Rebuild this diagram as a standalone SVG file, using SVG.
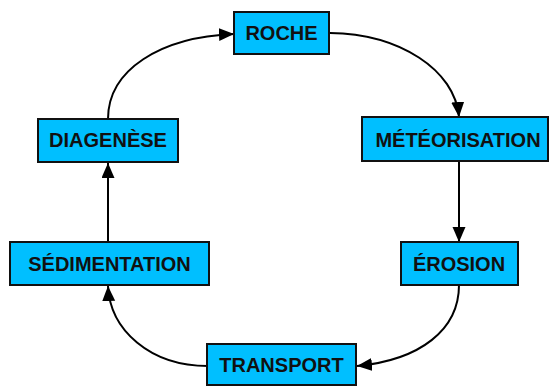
<svg xmlns="http://www.w3.org/2000/svg" width="550" height="386" viewBox="0 0 550 386">
<style>
.box{fill:#00BFFF;stroke:#111;stroke-width:2}
.lbl{font-family:"Liberation Sans",Arial,sans-serif;font-weight:bold;font-size:20px;fill:#111;text-anchor:middle}
.con{fill:none;stroke:#000;stroke-width:2}
</style>
<defs>
<marker id="ah" markerUnits="userSpaceOnUse" markerWidth="16" markerHeight="14" refX="15" refY="6.5" orient="auto">
<path d="M0,0 L15,6.5 L0,13 z" fill="#000"/>
</marker>
</defs>
<rect width="550" height="386" fill="#fff"/>
<g id="connectors">
<path class="con" d="M108,119 C108,70 160,37 234,34" marker-end="url(#ah)"/>
<path class="con" d="M330,33 C400,34 455,70 459,117" marker-end="url(#ah)"/>
<path class="con" d="M459,161 L459,242" marker-end="url(#ah)"/>
<path class="con" d="M459,285 C459,330 420,360 357,366" marker-end="url(#ah)"/>
<path class="con" d="M208,366 C150,366 110,330 108,286" marker-end="url(#ah)"/>
<path class="con" d="M108,242 L108,163" marker-end="url(#ah)"/>
</g>
<g id="roche"><rect class="box" x="234" y="12" width="95" height="42"/><text class="lbl" x="281.5" y="40">ROCHE</text></g>
<g id="meteorisation"><rect class="box" x="362" y="117" width="186" height="44"/><text class="lbl" x="458" y="147">MÉTÉORISATION</text></g>
<g id="erosion"><rect class="box" x="401" y="242" width="117" height="43"/><text class="lbl" x="459" y="271">ÉROSION</text></g>
<g id="transport"><rect class="box" x="207" y="344" width="149" height="41"/><text class="lbl" x="281.5" y="372">TRANSPORT</text></g>
<g id="sedimentation"><rect class="box" x="10" y="242" width="199" height="43"/><text class="lbl" x="109.5" y="271">SÉDIMENTATION</text></g>
<g id="diagenese"><rect class="box" x="38" y="119" width="140" height="43"/><text class="lbl" x="108" y="147">DIAGENÈSE</text></g>
</svg>
